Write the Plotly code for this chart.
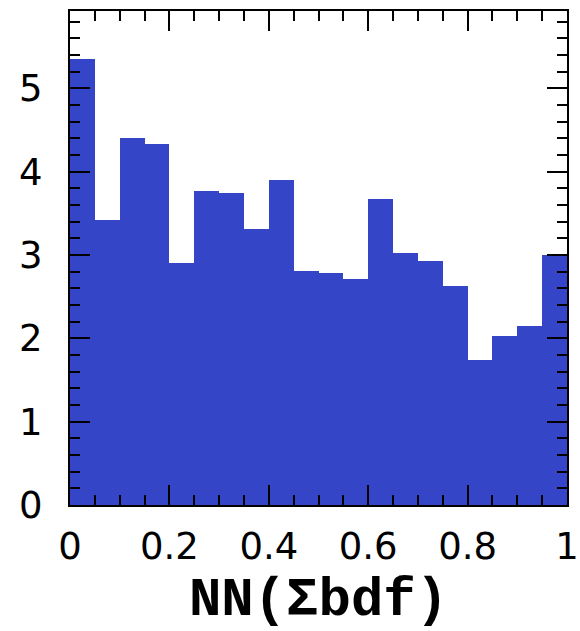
import plotly.graph_objects as go

bin_low = [0.00, 0.05, 0.10, 0.15, 0.20, 0.25, 0.30, 0.35, 0.40, 0.45,
           0.50, 0.55, 0.60, 0.65, 0.70, 0.75, 0.80, 0.85, 0.90, 0.95]
bin_width = 0.05
counts = [5.35, 3.42, 4.41, 4.33, 2.91, 3.77, 3.75, 3.31, 3.90, 2.81,
          2.79, 2.71, 3.67, 3.03, 2.93, 2.63, 1.74, 2.03, 2.15, 3.00]
x_tickvals = [0, 0.2, 0.4, 0.6, 0.8, 1]
x_ticktext = ["0", "0.2", "0.4", "0.6", "0.8", "1"]
y_tickvals = [0, 1, 2, 3, 4, 5]
y_ticktext = ["0", "1", "2", "3", "4", "5"]
x_title = "NN(\u03a3bdf)"

centers = [b + bin_width / 2 for b in bin_low]

fig = go.Figure(go.Bar(
    x=centers, y=counts, width=[bin_width] * len(counts),
    marker=dict(color="#3545c8", line=dict(width=0)),
))

fig.update_layout(
    width=580, height=631,
    margin=dict(l=70, r=13, t=11, b=126),
    paper_bgcolor="white", plot_bgcolor="white",
    showlegend=False, bargap=0,
    font=dict(family="DejaVu Sans", color="black"),
)

fig.update_xaxes(
    range=[0, 1], tickvals=x_tickvals, ticktext=x_ticktext,
    ticks="inside", ticklen=20, tickwidth=2, tickcolor="black",
    minor=dict(dtick=0.05, tick0=0, ticks="inside", ticklen=10, tickwidth=2, tickcolor="black"),
    showline=True, linecolor="black", linewidth=2, mirror="allticks",
    showgrid=False, zeroline=False, automargin=False,
    tickfont=dict(size=37, family="DejaVu Sans"),
    ticklabelstandoff=8,
    title=dict(text="<b>" + x_title + "</b>", font=dict(size=54, family="Liberation Mono"), standoff=20),
)
fig.update_yaxes(
    range=[0, 5.93], tickvals=y_tickvals, ticktext=y_ticktext,
    ticks="inside", ticklen=20, tickwidth=2, tickcolor="black",
    minor=dict(dtick=0.2, tick0=0, ticks="inside", ticklen=10, tickwidth=2, tickcolor="black"),
    showline=True, linecolor="black", linewidth=2, mirror="allticks",
    showgrid=False, zeroline=False, automargin=False,
    tickfont=dict(size=37, family="DejaVu Sans"),
    ticklabelstandoff=18,
)

fig.write_html("out.html")
